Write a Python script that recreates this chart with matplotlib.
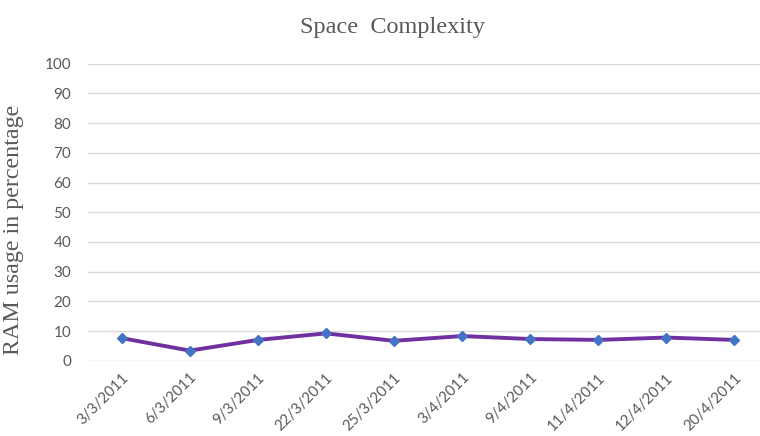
import matplotlib
matplotlib.use("Agg")
import matplotlib.pyplot as plt

dates = ["3/3/2011", "6/3/2011", "9/3/2011", "22/3/2011", "25/3/2011",
         "3/4/2011", "9/4/2011", "11/4/2011", "12/4/2011", "20/4/2011"]
ram_usage = [7.6, 3.4, 7.0, 9.2, 6.7, 8.3, 7.3, 7.0, 7.8, 7.0]
y_ticks = [0, 10, 20, 30, 40, 50, 60, 70, 80, 90, 100]

fig = plt.figure(figsize=(7.6, 4.36), dpi=100)
ax = fig.add_axes([0.1154, 0.1727, 0.8955, 0.681])

x = list(range(len(dates)))
ax.plot(x, ram_usage, color="#7030A0", linewidth=2.8, zorder=3,
        marker="D", markersize=5.5, markerfacecolor="#4472C4",
        markeredgecolor="#4472C4")

ax.set_xlim(-0.5, len(dates) - 0.5)
ax.set_ylim(0, 100)
ax.set_yticks(y_ticks)
ax.set_xticks(x)
ax.set_xticklabels(dates, rotation=45, ha="right", rotation_mode="anchor",
                   fontsize=10.8, color="#595959", family="Lato")
for lab in ax.get_yticklabels():
    lab.set_family("Lato")
ax.tick_params(axis="y", labelsize=11, labelcolor="#595959", length=0, pad=12)
ax.tick_params(axis="x", length=0, pad=7)
ax.grid(axis="y", color="#d9d9d9", linewidth=1)
ax.set_axisbelow(True)
for s in ax.spines.values():
    s.set_visible(False)

ax.set_ylabel("RAM usage in percentage", family="Liberation Serif",
              fontsize=17.3, color="#595959")
ax.yaxis.set_label_coords(-0.093, 0.44)
fig.text(0.517, 0.937, "Space  Complexity", family="Liberation Serif",
         fontsize=17.5, color="#595959", ha="center", va="center")

fig.savefig("out.png", dpi=100)
